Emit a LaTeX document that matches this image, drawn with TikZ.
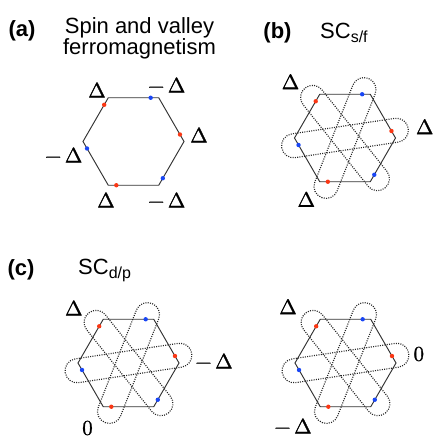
\documentclass[tikz,border=0pt]{standalone}
\usepackage{fontspec}
\setmainfont{Liberation Serif}
\setsansfont{Liberation Sans}
\newfontfamily\gapfont[FakeBold=1.3]{latinmodern-math.otf}
\usepackage{xcolor}
\usepackage{tikz}
\usetikzlibrary{calc}

\definecolor{dotred}{RGB}{250,55,20}
\definecolor{dotblue}{RGB}{25,70,245}

\begin{document}
\begin{tikzpicture}[
  x=1pt, y=-1pt,
  hexedge/.style={line width=0.95pt, black!80},
  pairloop/.style={line width=1.15pt, dash pattern=on 1pt off 1.3pt, black!85, rounded corners=11.9pt},
  reddot/.style={fill=dotred},
  bluedot/.style={fill=dotblue},
  gaplabel/.style={font=\gapfont\fontsize{21}{21}\selectfont, inner sep=0pt},
  paneltag/.style={font=\sffamily\bfseries\fontsize{22}{22}\selectfont, inner sep=0pt, anchor=base},
  paneltitle/.style={font=\sffamily\fontsize{22}{21}\selectfont, inner sep=0pt, align=center}
]
\useasboundingbox (0,0) rectangle (436,444);

\coordinate (ca) at (133.5,141.5);
\coordinate (cb) at (345,138);
\coordinate (cc) at (128.5,363);
\coordinate (cd) at (345.5,363);

% hexagons with the six points
\foreach \c in {ca,cb,cc,cd} {
  \begin{scope}[shift={(\c)}]
    \draw[hexedge] (0:50.5) -- (60:50.5) -- (120:50.5) -- (180:50.5) -- (240:50.5) -- (300:50.5) -- cycle;
    \foreach \a in {0,120,240}
      \fill[reddot] ($(\a:50.5)!0.16!(\a-60:50.5)$) circle (2.2pt);
    \foreach \a in {60,180,300}
      \fill[bluedot] ($(\a:50.5)!0.16!(\a-60:50.5)$) circle (2.2pt);
  \end{scope}
}

% pairing loops
\foreach \c in {cb,cc,cd}
  \foreach \r in {8.57,68.57,128.57}
    \draw[pairloop, shift={(\c)}, rotate=\r] (-64,-12) rectangle (64,12);

% titles
\node[paneltag] (taga) at (22,36.7) {(a)};
\node[paneltitle] (titlea) at (139.5,38.5) {Spin and valley\\ferromagnetism};
\node[paneltag] (tagb) at (277.5,38) {(b)};
\node[paneltitle, anchor=base west] (titleb) at (320,38) {SC\raisebox{-4pt}{\fontsize{16}{16}\selectfont s/f}};
\node[paneltag] (tagc) at (21,275) {(c)};
\node[paneltitle, anchor=base west] (titlec) at (78,274) {SC\raisebox{-4pt}{\fontsize{16}{16}\selectfont d/p}};

% gap values
\node[gaplabel] (a1) at (97,90) {Δ};
\node[gaplabel] (a2) at (166.7,85) {−\,Δ};
\node[gaplabel] (a3) at (199,135) {Δ};
\node[gaplabel] (a4) at (63.7,155) {−\,Δ};
\node[gaplabel] (a5) at (106,200) {Δ};
\node[gaplabel] (a6) at (166.7,200) {−\,Δ};

\node[gaplabel] (b1) at (290.5,81.7) {Δ};
\node[gaplabel] (b2) at (424.7,126.7) {Δ};
\node[gaplabel] (b3) at (306.3,199.3) {Δ};

\node[gaplabel] (c1) at (73.8,308) {Δ};
\node[gaplabel] (c2) at (214,361) {−\,Δ};
\node[gaplabel] (c3) at (87.5,428) {0};

\node[gaplabel] (d1) at (288,306.7) {Δ};
\node[gaplabel] (d2) at (418.8,354) {0};
\node[gaplabel] (d3) at (293,426) {−\,Δ};
\end{tikzpicture}
\end{document}
